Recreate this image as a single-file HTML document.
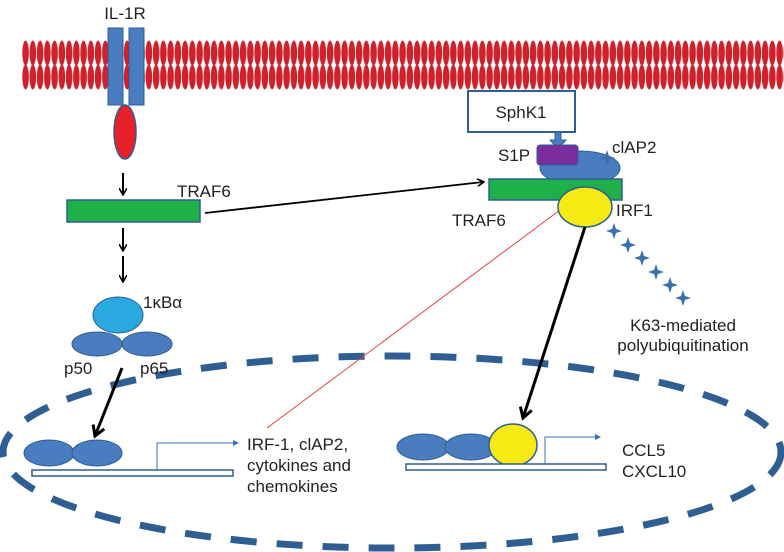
<!DOCTYPE html>
<html><head><style>body{margin:0;background:#fff}svg{display:block}text{font-family:"Liberation Sans",sans-serif;fill:#222}</style></head>
<body>
<svg width="784" height="552" viewBox="0 0 784 552" xmlns="http://www.w3.org/2000/svg">
<defs>
<pattern id="lip" x="22" y="40" width="7.25" height="50" patternUnits="userSpaceOnUse">
<ellipse cx="3.6" cy="13" rx="3.3" ry="12.5" fill="#d0202a"/>
<ellipse cx="3.6" cy="37" rx="3.3" ry="12.5" fill="#d0202a"/>
</pattern>
<marker id="ah" markerWidth="8" markerHeight="8" refX="6" refY="4" orient="auto" markerUnits="userSpaceOnUse"><path d="M0,0 L7,4 L0,8" fill="none" stroke="#000" stroke-width="1.6"/></marker>
<marker id="ahb" markerWidth="14" markerHeight="14" refX="11" refY="7" orient="auto" markerUnits="userSpaceOnUse"><path d="M1,1 L11,7 L1,13" fill="none" stroke="#000" stroke-width="3"/></marker>
<marker id="ahs" markerWidth="6" markerHeight="6" refX="5" refY="3" orient="auto" markerUnits="userSpaceOnUse"><path d="M0,0 L6,3 L0,6z" fill="#3a6fb0"/></marker>
<path id="star" d="M0,-8 L2,-2 L8,0 L2,2 L0,8 L-2,2 L-8,0 L-2,-2z" fill="#3a6fb0"/>
</defs>
<rect x="22" y="40" width="762" height="50" fill="url(#lip)"/>
<ellipse cx="392" cy="452" rx="389" ry="96" fill="none" stroke="#2f5e92" stroke-width="7" stroke-dasharray="26,20"/>
<text x="125" y="19" font-size="17" text-anchor="middle">IL-1R</text>
<rect x="108" y="28" width="15" height="77" fill="#4a7cc0" stroke="#2f5e92"/>
<rect x="129" y="28" width="15" height="77" fill="#4a7cc0" stroke="#2f5e92"/>
<ellipse cx="125" cy="132" rx="11" ry="27" fill="#e8202a" stroke="#2f5e92" stroke-width="1.5"/>
<g stroke="#000" stroke-width="2" marker-end="url(#ah)">
<line x1="123" y1="173" x2="123" y2="194"/>
<line x1="123" y1="228" x2="123" y2="250"/>
<line x1="123" y1="256" x2="123" y2="281"/>
</g>
<rect x="67" y="200" width="133" height="22" fill="#1fb04a" stroke="#2f5e92" stroke-width="1.5"/>
<text x="177" y="197" font-size="17">TRAF6</text>
<line x1="205" y1="213" x2="483" y2="182" stroke="#000" stroke-width="1.8" marker-end="url(#ah)"/>
<ellipse cx="118" cy="315" rx="25" ry="18" fill="#2aa8e0" stroke="#2f5e92"/>
<text x="143" y="308" font-size="17">1κBα</text>
<ellipse cx="97" cy="344" rx="25" ry="12" fill="#4a7cc0" stroke="#2f5e92"/>
<ellipse cx="147" cy="344" rx="25" ry="12" fill="#4a7cc0" stroke="#2f5e92"/>
<text x="64" y="374" font-size="17">p50</text>
<text x="140" y="374" font-size="17">p65</text>
<line x1="122" y1="368" x2="95" y2="436" stroke="#000" stroke-width="3" marker-end="url(#ahb)"/>
<ellipse cx="49" cy="453" rx="25" ry="13" fill="#4a7cc0" stroke="#2f5e92"/>
<ellipse cx="97" cy="453" rx="25" ry="13" fill="#4a7cc0" stroke="#2f5e92"/>
<rect x="32" y="470" width="201" height="6" fill="#fff" stroke="#2f5e92" stroke-width="1.5"/>
<polyline points="157,470 157,443 238,443" fill="none" stroke="#3a6fb0" stroke-width="1" marker-end="url(#ahs)"/>
<text x="247" y="450" font-size="17">IRF-1, clAP2,</text>
<text x="247" y="471" font-size="17">cytokines and</text>
<text x="247" y="492" font-size="17">chemokines</text>
<line x1="267" y1="428" x2="560" y2="210" stroke="#e84040" stroke-width="1"/>
<rect x="468" y="91" width="107" height="41" fill="#fff" stroke="#2f5e92" stroke-width="2"/>
<text x="521" y="118" font-size="17" text-anchor="middle">SphK1</text>
<path d="M555,132 h6 v8 h5 l-8,9 l-8,-9 h5z" fill="#4a7cc0" stroke="#2f5e92"/>
<ellipse cx="580" cy="168" rx="40" ry="17" fill="#4a7cc0" stroke="#2f5e92"/>
<rect x="537" y="145" width="41" height="20" rx="3" fill="#7a2e9e" stroke="#2f5e92"/>
<text x="498" y="161" font-size="17">S1P</text>
<text x="612" y="153" font-size="17">clAP2</text>
<use href="#star" x="607" y="158"/>
<rect x="489" y="179" width="133" height="21" fill="#1fb04a" stroke="#2f5e92" stroke-width="1.5"/>
<ellipse cx="585" cy="207" rx="27" ry="20" fill="#f5ea14" stroke="#2f5e92" stroke-width="1.5"/>
<text x="616" y="216" font-size="17">IRF1</text>
<text x="452" y="226" font-size="17">TRAF6</text>
<use href="#star" x="614" y="231"/><use href="#star" x="628" y="245"/><use href="#star" x="642" y="258"/><use href="#star" x="656" y="272"/><use href="#star" x="670" y="285"/><use href="#star" x="683" y="298"/>
<text x="683" y="331" font-size="17" text-anchor="middle">K63-mediated</text>
<text x="683" y="351" font-size="17" text-anchor="middle">polyubiquitination</text>
<line x1="585" y1="227" x2="523" y2="418" stroke="#000" stroke-width="3" marker-end="url(#ahb)"/>
<ellipse cx="423" cy="447" rx="26" ry="13" fill="#4a7cc0" stroke="#2f5e92"/>
<ellipse cx="471" cy="447" rx="26" ry="13" fill="#4a7cc0" stroke="#2f5e92"/>
<ellipse cx="513" cy="445" rx="24" ry="21" fill="#f5ea14" stroke="#2f5e92" stroke-width="1.5"/>
<rect x="406" y="464" width="200" height="6" fill="#fff" stroke="#2f5e92" stroke-width="1.5"/>
<polyline points="545,464 545,437 600,437" fill="none" stroke="#3a6fb0" stroke-width="1" marker-end="url(#ahs)"/>
<text x="622" y="456" font-size="17">CCL5</text>
<text x="622" y="477" font-size="17">CXCL10</text>
</svg>
</body></html>
